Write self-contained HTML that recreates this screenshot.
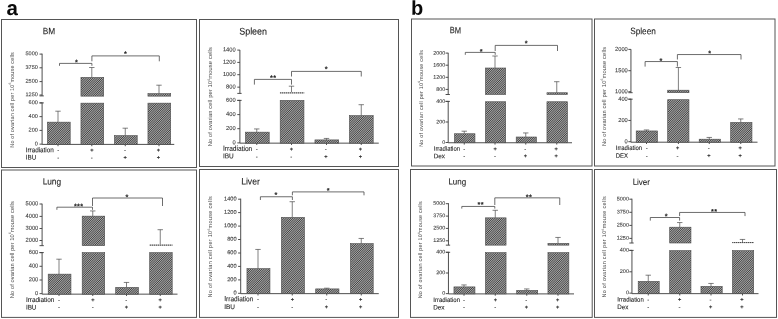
<!DOCTYPE html>
<html lang="en"><head><meta charset="utf-8"><title>Figure: ovarian cell counts after irradiation with IBU / Dex</title>
<style>
html,body{margin:0;padding:0;background:#fff;}
body{width:778px;height:319px;overflow:hidden;font-family:"Liberation Sans",sans-serif;}
svg{display:block;}
svg text{font-family:"Liberation Sans",sans-serif;fill:#2b2b2b;stroke:#2b2b2b;stroke-width:1;text-rendering:geometricPrecision;}
.ln{stroke:#3c3c3c;stroke-width:0.75;fill:none;}
.er{stroke:#4a4a4a;stroke-width:0.7;fill:none;}
.ax{stroke:#444;stroke-width:0.95;fill:none;}
.fr{stroke:#555;stroke-width:1;fill:none;}
.bar{fill:url(#hatch);stroke:#4a4a4a;stroke-width:0.6;}
.nb{stroke:none;fill:url(#hatch2);}
.pl{fill:#0a0a0a;stroke:none;}
svg text.tk{fill:#3d3d3d;stroke:#3d3d3d;}
svg text.yl{fill:#484848;stroke:none;}
svg text.tt{fill:#1c1c1c;stroke:#1c1c1c;}
svg text.mn{fill:#444;stroke:#444;}
</style></head><body>
<svg width="778" height="319" viewBox="0 0 778 319">
<defs><pattern id="hatch" patternUnits="userSpaceOnUse" width="20" height="20"><rect width="20" height="20" fill="#a6a6a6"/><path d="M1.000,-1 L-1,1.000 M3.222,-1 L-1,3.222 M5.444,-1 L-1,5.444 M7.667,-1 L-1,7.667 M9.889,-1 L-1,9.889 M12.111,-1 L-1,12.111 M14.333,-1 L-1,14.333 M16.556,-1 L-1,16.556 M18.778,-1 L-1,18.778 M21.000,-1 L-1,21.000 M23.222,-1 L-1,23.222 M25.444,-1 L-1,25.444 M27.667,-1 L-1,27.667 M29.889,-1 L-1,29.889 M32.111,-1 L-1,32.111 M34.333,-1 L-1,34.333 M36.556,-1 L-1,36.556 M38.778,-1 L-1,38.778 M41.000,-1 L-1,41.000" stroke="#2e2e2e" stroke-width="0.85" fill="none"/></pattern><pattern id="hatch2" patternUnits="userSpaceOnUse" width="2" height="2"><rect width="2" height="2" fill="#a4a4a4"/><rect width="1" height="2" fill="#4c4c4c"/></pattern></defs>
<rect width="778" height="319" fill="#fff"/>
<g>
<text transform="translate(6.4 14.9) rotate(0.5) scale(0.1)" font-size="205" font-weight="bold" class="pl">a</text>
<text transform="translate(411 14.8) rotate(0.5) scale(0.1)" font-size="200" font-weight="bold" class="pl">b</text>
<g id="A1">
<rect class="fr" x="1.5" y="19.5" width="195" height="148"/>
<text transform="translate(42.65 34.15) rotate(0.5) scale(0.1)" font-size="92.91" textLength="124" lengthAdjust="spacingAndGlyphs" stroke-width="4" class="tt">BM</text>
<text transform="translate(13.6 147.7) rotate(-90) scale(0.1)" font-size="55.65" textLength="956" lengthAdjust="spacing" stroke-width="0" class="yl">No of ovarian cell per 10<tspan font-size="33.39" dy="-22.26">6</tspan><tspan dy="22.26">mouse cells</tspan></text>
<path class="ax" d="M42.1,53.65 V95.9 M39.5,95.9 H43.8 M42.1,102.45 V144.4 H174.25 M39.5,102.9 H43.8 M39.5,144.15 H42.1 M39.5,130.4 H42.1 M39.5,116.65 H42.1 M39.5,102.9 H42.1 M39.5,95 H42.1 M39.5,81.6 H42.1 M39.5,67.8 H42.1 M39.5,54.1 H42.1 M58,144.4 V146.2 M91.8,144.4 V146.2 M125.25,144.4 V146.2 M159,144.4 V146.2"/>
<text transform="translate(37.85 145.42) rotate(0.5) scale(0.1)" font-size="55.65" text-anchor="end" stroke-width="0.5" class="tk">0</text>
<text transform="translate(37.85 131.69) rotate(0.5) scale(0.1)" font-size="55.65" text-anchor="end" stroke-width="0.5" class="tk">200</text>
<text transform="translate(37.85 117.94) rotate(0.5) scale(0.1)" font-size="55.65" text-anchor="end" stroke-width="0.5" class="tk">400</text>
<text transform="translate(37.85 104.19) rotate(0.5) scale(0.1)" font-size="55.65" text-anchor="end" stroke-width="0.5" class="tk">600</text>
<text transform="translate(37.85 96.31) rotate(0.5) scale(0.1)" font-size="55.65" text-anchor="end" stroke-width="0.5" class="tk">1250</text>
<text transform="translate(37.85 82.91) rotate(0.5) scale(0.1)" font-size="55.65" text-anchor="end" stroke-width="0.5" class="tk">2500</text>
<text transform="translate(37.85 69.11) rotate(0.5) scale(0.1)" font-size="55.65" text-anchor="end" stroke-width="0.5" class="tk">3750</text>
<text transform="translate(37.85 55.41) rotate(0.5) scale(0.1)" font-size="55.65" text-anchor="end" stroke-width="0.5" class="tk">5000</text>
<path class="er" d="M58,122.15 V111.2 M55.3,111.2 H60.7 M91.8,77.4 V67.5 M89.1,67.5 H94.5 M125.25,135.65 V128.2 M122.55,128.2 H127.95 M159,93.65 V85.2 M156.3,85.2 H161.7"/>
<rect class="bar" x="47.45" y="122.15" width="22.75" height="22.25"/>
<rect class="bar" x="80.95" y="103.15" width="22.75" height="41.25"/>
<rect class="bar" x="80.95" y="77.4" width="22.75" height="18.75"/>
<rect class="bar" x="114.45" y="135.65" width="22.75" height="8.75"/>
<rect class="bar" x="147.95" y="103.15" width="22.75" height="41.25"/>
<rect class="bar" x="147.95" y="93.65" width="22.75" height="2.5"/>
<path class="ln" d="M59.5,65.8 V63.4 H91.9 V65.8 M91.9,61.3 V55.9 H159.3 V61.3"/>
<text transform="translate(76.7 64.67) rotate(0.5) scale(0.1)" font-size="72" text-anchor="middle" font-weight="bold" stroke-width="7" class="tt" letter-spacing="4">*</text>
<text transform="translate(125.6 56.17) rotate(0.5) scale(0.1)" font-size="72" text-anchor="middle" font-weight="bold" stroke-width="7" class="tt" letter-spacing="4">*</text>
<text transform="translate(25.75 152.13) rotate(0.5) scale(0.1)" font-size="69.44" textLength="280" lengthAdjust="spacingAndGlyphs" stroke-width="2.8" class="tt">Irradiation</text>
<text transform="translate(25.75 159.45) rotate(0.5) scale(0.1)" font-size="67.2" textLength="105" lengthAdjust="spacingAndGlyphs" stroke-width="2.8" class="tt">IBU</text>
<text transform="translate(58.28 152.07) rotate(0.5) scale(0.1)" font-size="60" text-anchor="middle" stroke-width="1" class="mn">-</text>
<text transform="translate(91.78 151.9) rotate(0.5) scale(0.1)" font-size="56" text-anchor="middle" font-weight="bold" stroke-width="2">+</text>
<text transform="translate(125.03 152.07) rotate(0.5) scale(0.1)" font-size="60" text-anchor="middle" stroke-width="1" class="mn">-</text>
<text transform="translate(158.28 151.9) rotate(0.5) scale(0.1)" font-size="56" text-anchor="middle" font-weight="bold" stroke-width="2">+</text>
<text transform="translate(58.28 159.52) rotate(0.5) scale(0.1)" font-size="60" text-anchor="middle" stroke-width="1" class="mn">-</text>
<text transform="translate(91.78 159.52) rotate(0.5) scale(0.1)" font-size="60" text-anchor="middle" stroke-width="1" class="mn">-</text>
<text transform="translate(125.03 159.35) rotate(0.5) scale(0.1)" font-size="56" text-anchor="middle" font-weight="bold" stroke-width="2">+</text>
<text transform="translate(158.28 159.35) rotate(0.5) scale(0.1)" font-size="56" text-anchor="middle" font-weight="bold" stroke-width="2">+</text>
</g>
<g id="A2">
<rect class="fr" x="199.5" y="19.5" width="199" height="147"/>
<text transform="translate(239.25 34.43) rotate(0.5) scale(0.1)" font-size="95.76" textLength="277" lengthAdjust="spacingAndGlyphs" stroke-width="4" class="tt">Spleen</text>
<text transform="translate(212 146.35) rotate(-90) scale(0.1)" font-size="57.24" textLength="992.5" lengthAdjust="spacing" stroke-width="0" class="yl">No of ovarian cell per 10<tspan font-size="34.34" dy="-22.9">6</tspan><tspan dy="22.9">mouse cells</tspan></text>
<path class="ax" d="M239.9,49.95 V93.4 M237.3,93.4 H241.6 M239.9,99.95 V143.15 H378.75 M237.3,100.4 H241.6 M237.3,142.9 H239.9 M237.3,128.7 H239.9 M237.3,114.6 H239.9 M237.3,100.4 H239.9 M237.3,87.15 H239.9 M237.3,74.7 H239.9 M237.3,62.4 H239.9 M237.3,50.1 H239.9 M256.75,143.15 V144.95 M291.5,143.15 V144.95 M326.5,143.15 V144.95 M361.25,143.15 V144.95"/>
<text transform="translate(235.65 144.22) rotate(0.5) scale(0.1)" font-size="57.24" text-anchor="end" stroke-width="0.5" class="tk">0</text>
<text transform="translate(235.65 130.05) rotate(0.5) scale(0.1)" font-size="57.24" text-anchor="end" stroke-width="0.5" class="tk">200</text>
<text transform="translate(235.65 115.95) rotate(0.5) scale(0.1)" font-size="57.24" text-anchor="end" stroke-width="0.5" class="tk">400</text>
<text transform="translate(235.65 101.75) rotate(0.5) scale(0.1)" font-size="57.24" text-anchor="end" stroke-width="0.5" class="tk">600</text>
<text transform="translate(235.65 88.5) rotate(0.5) scale(0.1)" font-size="57.24" text-anchor="end" stroke-width="0.5" class="tk">800</text>
<text transform="translate(235.65 76.07) rotate(0.5) scale(0.1)" font-size="57.24" text-anchor="end" stroke-width="0.5" class="tk">1000</text>
<text transform="translate(235.65 63.77) rotate(0.5) scale(0.1)" font-size="57.24" text-anchor="end" stroke-width="0.5" class="tk">1200</text>
<text transform="translate(235.65 51.47) rotate(0.5) scale(0.1)" font-size="57.24" text-anchor="end" stroke-width="0.5" class="tk">1400</text>
<path class="er" d="M256.75,132.15 V128.95 M254.05,128.95 H259.45 M291.5,92.15 V86.2 M288.8,86.2 H294.2 M326.5,139.9 V138.45 M323.8,138.45 H329.2 M361.25,115.65 V104.7 M358.55,104.7 H363.95"/>
<rect class="bar" x="245.45" y="132.15" width="23.75" height="11"/>
<rect class="bar" x="280.2" y="100.4" width="23.75" height="42.75"/>
<rect class="bar nb" x="279.9" y="92.25" width="24.35" height="1.25"/>
<rect class="bar" x="314.95" y="139.9" width="23.75" height="3.25"/>
<rect class="bar" x="349.45" y="115.65" width="23.75" height="27.5"/>
<path class="ln" d="M254.4,84.6 V79.4 H291.5 V84.6 M291.5,76.5 V71.4 H361.25 V76.5"/>
<text transform="translate(273.2 80.27) rotate(0.5) scale(0.1)" font-size="72" text-anchor="middle" font-weight="bold" stroke-width="7" class="tt" letter-spacing="4">**</text>
<text transform="translate(326.45 71.57) rotate(0.5) scale(0.1)" font-size="72" text-anchor="middle" font-weight="bold" stroke-width="7" class="tt" letter-spacing="4">*</text>
<text transform="translate(223 150.72) rotate(0.5) scale(0.1)" font-size="71.68" textLength="292.5" lengthAdjust="spacingAndGlyphs" stroke-width="2.8" class="tt">Irradiation</text>
<text transform="translate(223 158.3) rotate(0.5) scale(0.1)" font-size="69.44" textLength="107.5" lengthAdjust="spacingAndGlyphs" stroke-width="2.8" class="tt">IBU</text>
<text transform="translate(256.78 151.07) rotate(0.5) scale(0.1)" font-size="60" text-anchor="middle" stroke-width="1" class="mn">-</text>
<text transform="translate(291.28 150.9) rotate(0.5) scale(0.1)" font-size="56" text-anchor="middle" font-weight="bold" stroke-width="2">+</text>
<text transform="translate(325.78 151.07) rotate(0.5) scale(0.1)" font-size="60" text-anchor="middle" stroke-width="1" class="mn">-</text>
<text transform="translate(360.28 150.9) rotate(0.5) scale(0.1)" font-size="56" text-anchor="middle" font-weight="bold" stroke-width="2">+</text>
<text transform="translate(256.78 158.62) rotate(0.5) scale(0.1)" font-size="60" text-anchor="middle" stroke-width="1" class="mn">-</text>
<text transform="translate(291.28 158.62) rotate(0.5) scale(0.1)" font-size="60" text-anchor="middle" stroke-width="1" class="mn">-</text>
<text transform="translate(325.78 158.45) rotate(0.5) scale(0.1)" font-size="56" text-anchor="middle" font-weight="bold" stroke-width="2">+</text>
<text transform="translate(360.28 158.45) rotate(0.5) scale(0.1)" font-size="56" text-anchor="middle" font-weight="bold" stroke-width="2">+</text>
</g>
<g id="A3">
<rect class="fr" x="1.5" y="170" width="195" height="147.4"/>
<text transform="translate(42.65 184.52) rotate(0.5) scale(0.1)" font-size="91.2" textLength="184.5" lengthAdjust="spacingAndGlyphs" stroke-width="4" class="tt">Lung</text>
<text transform="translate(13.6 298.2) rotate(-90) scale(0.1)" font-size="57.24" textLength="969.5" lengthAdjust="spacing" stroke-width="0" class="yl">No of ovarian cell per 10<tspan font-size="34.34" dy="-22.9">6</tspan><tspan dy="22.9">mouse cells</tspan></text>
<path class="ax" d="M42.1,203.7 V245.65 M39.5,245.65 H43.8 M42.1,252.15 V294.15 H177.5 M39.5,252.6 H43.8 M39.5,293.65 H42.1 M39.5,280 H42.1 M39.5,266.3 H42.1 M39.5,252.6 H42.1 M39.5,240.5 H42.1 M39.5,228.5 H42.1 M39.5,216.4 H42.1 M39.5,204 H42.1 M59,294.15 V295.95 M92.75,294.15 V295.95 M126.5,294.15 V295.95 M160.25,294.15 V295.95"/>
<text transform="translate(38.25 294.97) rotate(0.5) scale(0.1)" font-size="57.24" text-anchor="end" stroke-width="0.5" class="tk">0</text>
<text transform="translate(38.25 281.35) rotate(0.5) scale(0.1)" font-size="57.24" text-anchor="end" stroke-width="0.5" class="tk">200</text>
<text transform="translate(38.25 267.65) rotate(0.5) scale(0.1)" font-size="57.24" text-anchor="end" stroke-width="0.5" class="tk">400</text>
<text transform="translate(38.25 253.95) rotate(0.5) scale(0.1)" font-size="57.24" text-anchor="end" stroke-width="0.5" class="tk">600</text>
<text transform="translate(38.25 241.87) rotate(0.5) scale(0.1)" font-size="57.24" text-anchor="end" stroke-width="0.5" class="tk">2000</text>
<text transform="translate(38.25 229.87) rotate(0.5) scale(0.1)" font-size="57.24" text-anchor="end" stroke-width="0.5" class="tk">3000</text>
<text transform="translate(38.25 217.77) rotate(0.5) scale(0.1)" font-size="57.24" text-anchor="end" stroke-width="0.5" class="tk">4000</text>
<text transform="translate(38.25 205.37) rotate(0.5) scale(0.1)" font-size="57.24" text-anchor="end" stroke-width="0.5" class="tk">5000</text>
<path class="er" d="M59,274.15 V259.2 M56.3,259.2 H61.7 M92.75,216.15 V210.95 M90.05,210.95 H95.45 M126.5,287.4 V282.45 M123.8,282.45 H129.2 M160.25,244.4 V229.7 M157.55,229.7 H162.95"/>
<rect class="bar" x="48.2" y="274.15" width="22.75" height="20"/>
<rect class="bar" x="82.2" y="252.65" width="22.5" height="41.5"/>
<rect class="bar" x="82.2" y="216.15" width="22.5" height="29.5"/>
<rect class="bar" x="115.7" y="287.4" width="22.75" height="6.75"/>
<rect class="bar" x="149.7" y="252.65" width="22.5" height="41.5"/>
<rect class="bar nb" x="149.4" y="244.5" width="23.1" height="1.25"/>
<path class="ln" d="M56.9,209.8 V207.2 H92.5 V209.8 M92.5,206 V198 H162.5 V206"/>
<text transform="translate(78.7 208.67) rotate(0.5) scale(0.1)" font-size="72" text-anchor="middle" font-weight="bold" stroke-width="7" class="tt" letter-spacing="4">***</text>
<text transform="translate(127.1 199.57) rotate(0.5) scale(0.1)" font-size="72" text-anchor="middle" font-weight="bold" stroke-width="7" class="tt" letter-spacing="4">*</text>
<text transform="translate(25.9 301.88) rotate(0.5) scale(0.1)" font-size="70.56" textLength="285" lengthAdjust="spacingAndGlyphs" stroke-width="2.8" class="tt">Irradiation</text>
<text transform="translate(25.9 309.45) rotate(0.5) scale(0.1)" font-size="67.2" textLength="105" lengthAdjust="spacingAndGlyphs" stroke-width="2.8" class="tt">IBU</text>
<text transform="translate(59.03 301.82) rotate(0.5) scale(0.1)" font-size="60" text-anchor="middle" stroke-width="1" class="mn">-</text>
<text transform="translate(92.78 301.65) rotate(0.5) scale(0.1)" font-size="56" text-anchor="middle" font-weight="bold" stroke-width="2">+</text>
<text transform="translate(126.28 301.82) rotate(0.5) scale(0.1)" font-size="60" text-anchor="middle" stroke-width="1" class="mn">-</text>
<text transform="translate(160.03 301.65) rotate(0.5) scale(0.1)" font-size="56" text-anchor="middle" font-weight="bold" stroke-width="2">+</text>
<text transform="translate(59.03 309.12) rotate(0.5) scale(0.1)" font-size="60" text-anchor="middle" stroke-width="1" class="mn">-</text>
<text transform="translate(92.78 309.12) rotate(0.5) scale(0.1)" font-size="60" text-anchor="middle" stroke-width="1" class="mn">-</text>
<text transform="translate(126.28 308.95) rotate(0.5) scale(0.1)" font-size="56" text-anchor="middle" font-weight="bold" stroke-width="2">+</text>
<text transform="translate(160.03 308.95) rotate(0.5) scale(0.1)" font-size="56" text-anchor="middle" font-weight="bold" stroke-width="2">+</text>
</g>
<g id="A4">
<rect class="fr" x="199.5" y="169.5" width="199" height="147.9"/>
<text transform="translate(241.15 184.52) rotate(0.5) scale(0.1)" font-size="94.62" textLength="187" lengthAdjust="spacingAndGlyphs" stroke-width="4" class="tt">Liver</text>
<text transform="translate(211.9 297.6) rotate(-90) scale(0.1)" font-size="56.18" textLength="1013.5" lengthAdjust="spacing" stroke-width="0" class="yl">No of ovarian cell per 10<tspan font-size="33.71" dy="-22.47">6</tspan><tspan dy="22.47">mouse cells</tspan></text>
<path class="ax" d="M240.7,198.7 V293.65 H378.75 M238.1,293.3 H240.7 M238.1,279.9 H240.7 M238.1,266.4 H240.7 M238.1,253 H240.7 M238.1,239.5 H240.7 M238.1,226.1 H240.7 M238.1,212.6 H240.7 M238.1,199.2 H240.7 M258,293.65 V295.45 M292.25,293.65 V295.45 M326.75,293.65 V295.45 M361.25,293.65 V295.45"/>
<text transform="translate(236.55 294.59) rotate(0.5) scale(0.1)" font-size="56.18" text-anchor="end" stroke-width="0.5" class="tk">0</text>
<text transform="translate(236.55 281.21) rotate(0.5) scale(0.1)" font-size="56.18" text-anchor="end" stroke-width="0.5" class="tk">200</text>
<text transform="translate(236.55 267.71) rotate(0.5) scale(0.1)" font-size="56.18" text-anchor="end" stroke-width="0.5" class="tk">400</text>
<text transform="translate(236.55 254.31) rotate(0.5) scale(0.1)" font-size="56.18" text-anchor="end" stroke-width="0.5" class="tk">600</text>
<text transform="translate(236.55 240.81) rotate(0.5) scale(0.1)" font-size="56.18" text-anchor="end" stroke-width="0.5" class="tk">800</text>
<text transform="translate(236.55 227.43) rotate(0.5) scale(0.1)" font-size="56.18" text-anchor="end" stroke-width="0.5" class="tk">1000</text>
<text transform="translate(236.55 213.93) rotate(0.5) scale(0.1)" font-size="56.18" text-anchor="end" stroke-width="0.5" class="tk">1200</text>
<text transform="translate(236.55 200.53) rotate(0.5) scale(0.1)" font-size="56.18" text-anchor="end" stroke-width="0.5" class="tk">1400</text>
<path class="er" d="M258,268.65 V249.45 M255.3,249.45 H260.7 M292.25,217.4 V201.7 M289.55,201.7 H294.95 M326.75,288.9 V288.2 M324.05,288.2 H329.45 M361.25,243.65 V238.45 M358.55,238.45 H363.95"/>
<rect class="bar" x="246.95" y="268.65" width="23" height="25"/>
<rect class="bar" x="281.45" y="217.4" width="23" height="76.25"/>
<rect class="bar" x="315.7" y="288.9" width="23.25" height="4.75"/>
<rect class="bar" x="350.45" y="243.65" width="22.75" height="50"/>
<path class="ln" d="M260.4,200 V196.75 H292.4 V200 M292.4,195.3 V191.9 H364 V195.3"/>
<text transform="translate(276.2 197.17) rotate(0.5) scale(0.1)" font-size="72" text-anchor="middle" font-weight="bold" stroke-width="7" class="tt" letter-spacing="4">*</text>
<text transform="translate(328.3 192.92) rotate(0.5) scale(0.1)" font-size="72" text-anchor="middle" font-weight="bold" stroke-width="7" class="tt" letter-spacing="4">*</text>
<text transform="translate(224.3 301.12) rotate(0.5) scale(0.1)" font-size="71.68" textLength="289.5" lengthAdjust="spacingAndGlyphs" stroke-width="2.8" class="tt">Irradiation</text>
<text transform="translate(224.3 308.95) rotate(0.5) scale(0.1)" font-size="67.2" textLength="107" lengthAdjust="spacingAndGlyphs" stroke-width="2.8" class="tt">IBU</text>
<text transform="translate(258.03 301.32) rotate(0.5) scale(0.1)" font-size="60" text-anchor="middle" stroke-width="1" class="mn">-</text>
<text transform="translate(292.28 301.15) rotate(0.5) scale(0.1)" font-size="56" text-anchor="middle" font-weight="bold" stroke-width="2">+</text>
<text transform="translate(326.28 301.32) rotate(0.5) scale(0.1)" font-size="60" text-anchor="middle" stroke-width="1" class="mn">-</text>
<text transform="translate(360.53 301.15) rotate(0.5) scale(0.1)" font-size="56" text-anchor="middle" font-weight="bold" stroke-width="2">+</text>
<text transform="translate(258.03 309.02) rotate(0.5) scale(0.1)" font-size="60" text-anchor="middle" stroke-width="1" class="mn">-</text>
<text transform="translate(292.28 309.02) rotate(0.5) scale(0.1)" font-size="60" text-anchor="middle" stroke-width="1" class="mn">-</text>
<text transform="translate(326.28 308.85) rotate(0.5) scale(0.1)" font-size="56" text-anchor="middle" font-weight="bold" stroke-width="2">+</text>
<text transform="translate(360.53 308.85) rotate(0.5) scale(0.1)" font-size="56" text-anchor="middle" font-weight="bold" stroke-width="2">+</text>
</g>
<g id="B1">
<rect class="fr" x="411.5" y="19" width="180.5" height="147"/>
<text transform="translate(449.65 33.35) rotate(0.5) scale(0.1)" font-size="92.91" textLength="113" lengthAdjust="spacingAndGlyphs" stroke-width="4" class="tt">BM</text>
<text transform="translate(422.6 146.8) rotate(-90) scale(0.1)" font-size="53.64" textLength="968" lengthAdjust="spacing" stroke-width="0" class="yl">No of ovarian cell per 10<tspan font-size="32.18" dy="-21.45">6</tspan><tspan dy="21.45">mouse cells</tspan></text>
<path class="ax" d="M448.2,52.8 V94.5 M445.6,94.5 H449.9 M448.2,100.95 V142.75 H572 M445.6,101.4 H449.9 M445.6,142.5 H448.2 M445.6,122 H448.2 M445.6,101.4 H448.2 M445.6,89.4 H448.2 M445.6,77.3 H448.2 M445.6,65.2 H448.2 M445.6,53.1 H448.2 M464.25,142.75 V144.55 M495,142.75 V144.55 M525.75,142.75 V144.55 M556.75,142.75 V144.55"/>
<text transform="translate(445.25 144.09) rotate(0.5) scale(0.1)" font-size="53.64" text-anchor="end" stroke-width="0.5" class="tk">0</text>
<text transform="translate(445.25 123.62) rotate(0.5) scale(0.1)" font-size="53.64" text-anchor="end" stroke-width="0.5" class="tk">200</text>
<text transform="translate(445.25 103.02) rotate(0.5) scale(0.1)" font-size="53.64" text-anchor="end" stroke-width="0.5" class="tk">400</text>
<text transform="translate(445.25 91.02) rotate(0.5) scale(0.1)" font-size="53.64" text-anchor="end" stroke-width="0.5" class="tk">800</text>
<text transform="translate(445.25 78.93) rotate(0.5) scale(0.1)" font-size="53.64" text-anchor="end" stroke-width="0.5" class="tk">1200</text>
<text transform="translate(445.25 66.83) rotate(0.5) scale(0.1)" font-size="53.64" text-anchor="end" stroke-width="0.5" class="tk">1600</text>
<text transform="translate(445.25 54.73) rotate(0.5) scale(0.1)" font-size="53.64" text-anchor="end" stroke-width="0.5" class="tk">2000</text>
<path class="er" d="M464.25,133.75 V131.2 M461.55,131.2 H466.95 M495,68 V56 M492.3,56 H497.7 M525.75,137 V132.95 M523.05,132.95 H528.45 M556.75,92.75 V81.7 M554.05,81.7 H559.45"/>
<rect class="bar" x="454.45" y="133.75" width="20.5" height="9"/>
<rect class="bar" x="485.45" y="101.75" width="20.25" height="41"/>
<rect class="bar" x="485.45" y="68" width="20.25" height="26.5"/>
<rect class="bar" x="516.2" y="137" width="20.25" height="5.75"/>
<rect class="bar" x="546.95" y="101.75" width="20.5" height="41"/>
<rect class="bar" x="546.95" y="92.75" width="20.5" height="1.75"/>
<path class="ln" d="M465.3,54.8 V52.4 H495.2 V54.8 M495.2,51 V45.4 H557.5 V51"/>
<text transform="translate(481.45 53.92) rotate(0.5) scale(0.1)" font-size="72" text-anchor="middle" font-weight="bold" stroke-width="7" class="tt" letter-spacing="4">*</text>
<text transform="translate(526.45 45.77) rotate(0.5) scale(0.1)" font-size="72" text-anchor="middle" font-weight="bold" stroke-width="7" class="tt" letter-spacing="4">*</text>
<text transform="translate(433.75 150.64) rotate(0.5) scale(0.1)" font-size="64.96" textLength="262.5" lengthAdjust="spacingAndGlyphs" stroke-width="2.8" class="tt">Irradiation</text>
<text transform="translate(433.75 158.2) rotate(0.5) scale(0.1)" font-size="64.96" textLength="112.5" lengthAdjust="spacingAndGlyphs" stroke-width="2.8" class="tt">Dex</text>
<text transform="translate(464.28 150.82) rotate(0.5) scale(0.1)" font-size="60" text-anchor="middle" stroke-width="1" class="mn">-</text>
<text transform="translate(495.03 150.65) rotate(0.5) scale(0.1)" font-size="56" text-anchor="middle" font-weight="bold" stroke-width="2">+</text>
<text transform="translate(525.28 150.82) rotate(0.5) scale(0.1)" font-size="60" text-anchor="middle" stroke-width="1" class="mn">-</text>
<text transform="translate(556.03 150.65) rotate(0.5) scale(0.1)" font-size="56" text-anchor="middle" font-weight="bold" stroke-width="2">+</text>
<text transform="translate(464.28 157.87) rotate(0.5) scale(0.1)" font-size="60" text-anchor="middle" stroke-width="1" class="mn">-</text>
<text transform="translate(495.03 157.87) rotate(0.5) scale(0.1)" font-size="60" text-anchor="middle" stroke-width="1" class="mn">-</text>
<text transform="translate(525.28 157.7) rotate(0.5) scale(0.1)" font-size="56" text-anchor="middle" font-weight="bold" stroke-width="2">+</text>
<text transform="translate(556.03 157.7) rotate(0.5) scale(0.1)" font-size="56" text-anchor="middle" font-weight="bold" stroke-width="2">+</text>
</g>
<g id="B2">
<rect class="fr" x="594.5" y="19" width="180.5" height="147"/>
<text transform="translate(630.15 34.09) rotate(0.5) scale(0.1)" font-size="91.54" textLength="257" lengthAdjust="spacingAndGlyphs" stroke-width="4" class="tt">Spleen</text>
<text transform="translate(605.7 146) rotate(-90) scale(0.1)" font-size="57.24" textLength="991" lengthAdjust="spacing" stroke-width="0" class="yl">No of ovarian cell per 10<tspan font-size="34.34" dy="-22.9">6</tspan><tspan dy="22.9">mouse cells</tspan></text>
<path class="ax" d="M630.95,49.25 V92.7 M628.35,92.7 H632.65 M630.95,98.75 V142.2 H757.5 M628.35,99.2 H632.65 M628.35,141.7 H630.95 M628.35,120.45 H630.95 M628.35,99.2 H630.95 M628.35,91.7 H630.95 M628.35,70.7 H630.95 M628.35,49.4 H630.95 M646.5,142.2 V144 M678.4,142.2 V144 M709.25,142.2 V144 M740.75,142.2 V144"/>
<text transform="translate(627.75 143.22) rotate(0.5) scale(0.1)" font-size="57.24" text-anchor="end" stroke-width="0.5" class="tk">0</text>
<text transform="translate(627.75 122) rotate(0.5) scale(0.1)" font-size="57.24" text-anchor="end" stroke-width="0.5" class="tk">200</text>
<text transform="translate(627.75 100.75) rotate(0.5) scale(0.1)" font-size="57.24" text-anchor="end" stroke-width="0.5" class="tk">400</text>
<text transform="translate(627.75 93.27) rotate(0.5) scale(0.1)" font-size="57.24" text-anchor="end" stroke-width="0.5" class="tk">1000</text>
<text transform="translate(627.75 72.27) rotate(0.5) scale(0.1)" font-size="57.24" text-anchor="end" stroke-width="0.5" class="tk">1500</text>
<text transform="translate(627.75 50.97) rotate(0.5) scale(0.1)" font-size="57.24" text-anchor="end" stroke-width="0.5" class="tk">2000</text>
<path class="er" d="M646.5,130.95 V129.95 M643.8,129.95 H649.2 M678.4,90.2 V67.5 M675.7,67.5 H681.1 M709.25,139.2 V137.45 M706.55,137.45 H711.95 M740.75,122.45 V118.95 M738.05,118.95 H743.45"/>
<rect class="bar" x="636.2" y="130.95" width="21.25" height="11.25"/>
<rect class="bar" x="667.7" y="99.7" width="21.25" height="42.5"/>
<rect class="bar" x="667.7" y="90.2" width="21.25" height="2.5"/>
<rect class="bar" x="699.2" y="139.2" width="21.25" height="3"/>
<rect class="bar" x="730.7" y="122.45" width="21.25" height="19.75"/>
<path class="ln" d="M645.1,66.6 V61.55 H677.4 V66.6 M677.4,59.5 V54.55 H741 V59.5"/>
<text transform="translate(661.2 63.27) rotate(0.5) scale(0.1)" font-size="72" text-anchor="middle" font-weight="bold" stroke-width="7" class="tt" letter-spacing="4">*</text>
<text transform="translate(709.95 55.77) rotate(0.5) scale(0.1)" font-size="72" text-anchor="middle" font-weight="bold" stroke-width="7" class="tt" letter-spacing="4">*</text>
<text transform="translate(615.75 149.89) rotate(0.5) scale(0.1)" font-size="66.08" textLength="263" lengthAdjust="spacingAndGlyphs" stroke-width="2.8" class="tt">Irradiation</text>
<text transform="translate(615.75 157.7) rotate(0.5) scale(0.1)" font-size="63.84" textLength="122.5" lengthAdjust="spacingAndGlyphs" stroke-width="2.8" class="tt">DEX</text>
<text transform="translate(646.78 149.82) rotate(0.5) scale(0.1)" font-size="60" text-anchor="middle" stroke-width="1" class="mn">-</text>
<text transform="translate(677.53 149.65) rotate(0.5) scale(0.1)" font-size="56" text-anchor="middle" font-weight="bold" stroke-width="2">+</text>
<text transform="translate(708.78 149.82) rotate(0.5) scale(0.1)" font-size="60" text-anchor="middle" stroke-width="1" class="mn">-</text>
<text transform="translate(740.03 149.65) rotate(0.5) scale(0.1)" font-size="56" text-anchor="middle" font-weight="bold" stroke-width="2">+</text>
<text transform="translate(646.78 157.72) rotate(0.5) scale(0.1)" font-size="60" text-anchor="middle" stroke-width="1" class="mn">-</text>
<text transform="translate(677.53 157.72) rotate(0.5) scale(0.1)" font-size="60" text-anchor="middle" stroke-width="1" class="mn">-</text>
<text transform="translate(708.78 157.55) rotate(0.5) scale(0.1)" font-size="56" text-anchor="middle" font-weight="bold" stroke-width="2">+</text>
<text transform="translate(740.03 157.55) rotate(0.5) scale(0.1)" font-size="56" text-anchor="middle" font-weight="bold" stroke-width="2">+</text>
</g>
<g id="B3">
<rect class="fr" x="410.5" y="169.5" width="181.7" height="147.9"/>
<text transform="translate(448.4 184.52) rotate(0.5) scale(0.1)" font-size="86.64" textLength="177" lengthAdjust="spacingAndGlyphs" stroke-width="4" class="tt">Lung</text>
<text transform="translate(422.2 298.35) rotate(-90) scale(0.1)" font-size="54.06" textLength="971" lengthAdjust="spacing" stroke-width="0" class="yl">No of ovarian cell per 10<tspan font-size="32.44" dy="-21.62">6</tspan><tspan dy="21.62">mouse cells</tspan></text>
<path class="ax" d="M448.45,203.2 V245.15 M445.85,245.15 H450.15 M448.45,251.85 V293.9 H574 M445.85,252.3 H450.15 M445.85,293.65 H448.45 M445.85,273 H448.45 M445.85,252.3 H448.45 M445.85,240.8 H448.45 M445.85,228.4 H448.45 M445.85,216.1 H448.45 M445.85,203.7 H448.45 M464,293.9 V295.7 M495.25,293.9 V295.7 M526.75,293.9 V295.7 M558,293.9 V295.7"/>
<text transform="translate(445.25 294.86) rotate(0.5) scale(0.1)" font-size="54.06" text-anchor="end" stroke-width="0.5" class="tk">0</text>
<text transform="translate(445.25 274.24) rotate(0.5) scale(0.1)" font-size="54.06" text-anchor="end" stroke-width="0.5" class="tk">200</text>
<text transform="translate(445.25 253.54) rotate(0.5) scale(0.1)" font-size="54.06" text-anchor="end" stroke-width="0.5" class="tk">400</text>
<text transform="translate(445.25 242.05) rotate(0.5) scale(0.1)" font-size="54.06" text-anchor="end" stroke-width="0.5" class="tk">1250</text>
<text transform="translate(445.25 229.65) rotate(0.5) scale(0.1)" font-size="54.06" text-anchor="end" stroke-width="0.5" class="tk">2500</text>
<text transform="translate(445.25 217.35) rotate(0.5) scale(0.1)" font-size="54.06" text-anchor="end" stroke-width="0.5" class="tk">3750</text>
<text transform="translate(445.25 204.95) rotate(0.5) scale(0.1)" font-size="54.06" text-anchor="end" stroke-width="0.5" class="tk">5000</text>
<path class="er" d="M464,286.9 V284.95 M461.3,284.95 H466.7 M495.25,217.85 V210.3 M492.55,210.3 H497.95 M526.75,290.4 V288.95 M524.05,288.95 H529.45 M558,243.4 V237.45 M555.3,237.45 H560.7"/>
<rect class="bar" x="453.95" y="286.9" width="21" height="7"/>
<rect class="bar" x="485.45" y="252.65" width="20.6" height="41.25"/>
<rect class="bar" x="485.45" y="217.85" width="20.6" height="27.3"/>
<rect class="bar" x="516.7" y="290.4" width="21" height="3.5"/>
<rect class="bar" x="547.95" y="252.65" width="20.9" height="41.25"/>
<rect class="bar" x="547.95" y="243.4" width="20.9" height="1.75"/>
<path class="ln" d="M461.8,208.6 V206.45 H494.8 V208.6 M494.8,205 V197.85 H559.75 V205"/>
<text transform="translate(480.8 207.07) rotate(0.5) scale(0.1)" font-size="72" text-anchor="middle" font-weight="bold" stroke-width="7" class="tt" letter-spacing="4">**</text>
<text transform="translate(528.95 199.42) rotate(0.5) scale(0.1)" font-size="72" text-anchor="middle" font-weight="bold" stroke-width="7" class="tt" letter-spacing="4">**</text>
<text transform="translate(433.25 301.88) rotate(0.5) scale(0.1)" font-size="66.08" textLength="267.5" lengthAdjust="spacingAndGlyphs" stroke-width="2.8" class="tt">Irradiation</text>
<text transform="translate(433.25 309.45) rotate(0.5) scale(0.1)" font-size="64.96" textLength="112.5" lengthAdjust="spacingAndGlyphs" stroke-width="2.8" class="tt">Dex</text>
<text transform="translate(464.03 301.82) rotate(0.5) scale(0.1)" font-size="60" text-anchor="middle" stroke-width="1" class="mn">-</text>
<text transform="translate(495.28 301.65) rotate(0.5) scale(0.1)" font-size="56" text-anchor="middle" font-weight="bold" stroke-width="2">+</text>
<text transform="translate(526.28 301.82) rotate(0.5) scale(0.1)" font-size="60" text-anchor="middle" stroke-width="1" class="mn">-</text>
<text transform="translate(557.53 301.65) rotate(0.5) scale(0.1)" font-size="56" text-anchor="middle" font-weight="bold" stroke-width="2">+</text>
<text transform="translate(464.03 309.12) rotate(0.5) scale(0.1)" font-size="60" text-anchor="middle" stroke-width="1" class="mn">-</text>
<text transform="translate(495.28 309.12) rotate(0.5) scale(0.1)" font-size="60" text-anchor="middle" stroke-width="1" class="mn">-</text>
<text transform="translate(526.28 308.95) rotate(0.5) scale(0.1)" font-size="56" text-anchor="middle" font-weight="bold" stroke-width="2">+</text>
<text transform="translate(557.53 308.95) rotate(0.5) scale(0.1)" font-size="56" text-anchor="middle" font-weight="bold" stroke-width="2">+</text>
</g>
<g id="B4">
<rect class="fr" x="594.5" y="169.5" width="182" height="147.9"/>
<text transform="translate(632.65 184.87) rotate(0.5) scale(0.1)" font-size="86.64" textLength="172" lengthAdjust="spacingAndGlyphs" stroke-width="4" class="tt">Liver</text>
<text transform="translate(606.1 297.6) rotate(-90) scale(0.1)" font-size="55.12" textLength="1013.5" lengthAdjust="spacing" stroke-width="0" class="yl">No of ovarian cell per 10<tspan font-size="33.07" dy="-22.05">6</tspan><tspan dy="22.05">mouse cells</tspan></text>
<path class="ax" d="M631.95,198.7 V243 M629.35,243 H633.65 M631.95,249.95 V293.65 H758.5 M629.35,250.4 H633.65 M629.35,293.15 H631.95 M629.35,271.8 H631.95 M629.35,250.4 H631.95 M629.35,238.4 H631.95 M629.35,225.4 H631.95 M629.35,212.3 H631.95 M629.35,199.2 H631.95 M648.25,293.65 V295.45 M679.75,293.65 V295.45 M711,293.65 V295.45 M742.5,293.65 V295.45"/>
<text transform="translate(629 294.4) rotate(0.5) scale(0.1)" font-size="55.12" text-anchor="end" stroke-width="0.5" class="tk">0</text>
<text transform="translate(629 273.07) rotate(0.5) scale(0.1)" font-size="55.12" text-anchor="end" stroke-width="0.5" class="tk">200</text>
<text transform="translate(629 251.67) rotate(0.5) scale(0.1)" font-size="55.12" text-anchor="end" stroke-width="0.5" class="tk">400</text>
<text transform="translate(629 239.69) rotate(0.5) scale(0.1)" font-size="55.12" text-anchor="end" stroke-width="0.5" class="tk">1250</text>
<text transform="translate(629 226.69) rotate(0.5) scale(0.1)" font-size="55.12" text-anchor="end" stroke-width="0.5" class="tk">2500</text>
<text transform="translate(629 213.59) rotate(0.5) scale(0.1)" font-size="55.12" text-anchor="end" stroke-width="0.5" class="tk">3750</text>
<text transform="translate(629 200.49) rotate(0.5) scale(0.1)" font-size="55.12" text-anchor="end" stroke-width="0.5" class="tk">5000</text>
<path class="er" d="M648.25,281.4 V275.2 M645.55,275.2 H650.95 M679.75,227.2 V222.55 M677.05,222.55 H682.45 M711,286.4 V283.45 M708.3,283.45 H713.7 M742.5,242.2 V239.45 M739.8,239.45 H745.2"/>
<rect class="bar" x="638.2" y="281.4" width="21" height="12.25"/>
<rect class="bar" x="669.7" y="250.65" width="21.25" height="43"/>
<rect class="bar" x="669.7" y="227.2" width="21.25" height="15.8"/>
<rect class="bar" x="700.95" y="286.4" width="21.25" height="7.25"/>
<rect class="bar" x="732.45" y="250.65" width="21.25" height="43"/>
<rect class="bar nb" x="732.15" y="242" width="21.85" height="1.1"/>
<path class="ln" d="M650.3,220.6 V217.5 H679.6 V220.6 M679.6,216.1 V212.45 H745 V216.1"/>
<text transform="translate(666.45 218.67) rotate(0.5) scale(0.1)" font-size="72" text-anchor="middle" font-weight="bold" stroke-width="7" class="tt" letter-spacing="4">*</text>
<text transform="translate(714.2 213.92) rotate(0.5) scale(0.1)" font-size="72" text-anchor="middle" font-weight="bold" stroke-width="7" class="tt" letter-spacing="4">**</text>
<text transform="translate(617.25 301.53) rotate(0.5) scale(0.1)" font-size="66.08" textLength="265" lengthAdjust="spacingAndGlyphs" stroke-width="2.8" class="tt">Irradiation</text>
<text transform="translate(617.25 309.1) rotate(0.5) scale(0.1)" font-size="64.96" textLength="110" lengthAdjust="spacingAndGlyphs" stroke-width="2.8" class="tt">Dex</text>
<text transform="translate(648.28 301.47) rotate(0.5) scale(0.1)" font-size="60" text-anchor="middle" stroke-width="1" class="mn">-</text>
<text transform="translate(679.53 301.3) rotate(0.5) scale(0.1)" font-size="56" text-anchor="middle" font-weight="bold" stroke-width="2">+</text>
<text transform="translate(710.53 301.47) rotate(0.5) scale(0.1)" font-size="60" text-anchor="middle" stroke-width="1" class="mn">-</text>
<text transform="translate(741.78 301.3) rotate(0.5) scale(0.1)" font-size="56" text-anchor="middle" font-weight="bold" stroke-width="2">+</text>
<text transform="translate(648.28 308.87) rotate(0.5) scale(0.1)" font-size="60" text-anchor="middle" stroke-width="1" class="mn">-</text>
<text transform="translate(679.53 308.87) rotate(0.5) scale(0.1)" font-size="60" text-anchor="middle" stroke-width="1" class="mn">-</text>
<text transform="translate(710.53 308.7) rotate(0.5) scale(0.1)" font-size="56" text-anchor="middle" font-weight="bold" stroke-width="2">+</text>
<text transform="translate(741.78 308.7) rotate(0.5) scale(0.1)" font-size="56" text-anchor="middle" font-weight="bold" stroke-width="2">+</text>
</g>
</g>
</svg></body></html>
